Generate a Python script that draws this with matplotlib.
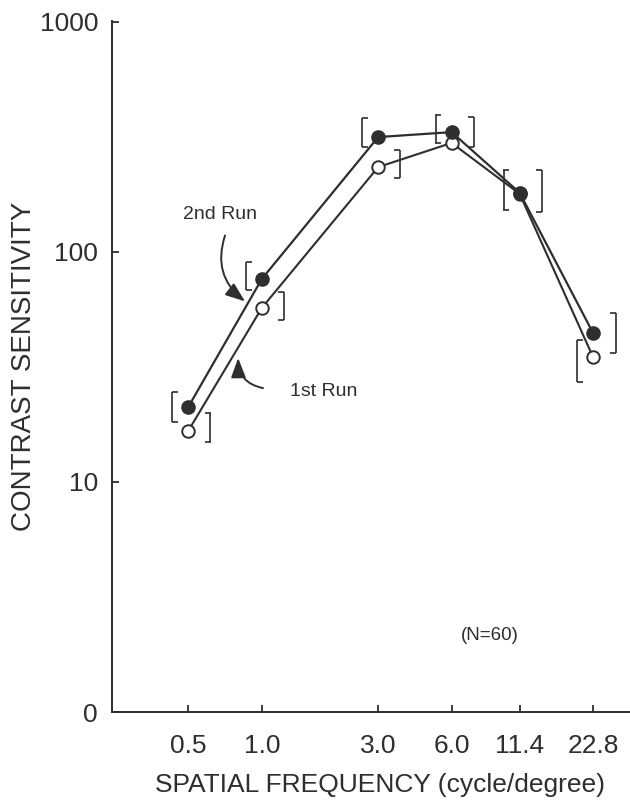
import matplotlib
matplotlib.use("Agg")
import matplotlib.pyplot as plt
from matplotlib.transforms import offset_copy

# Spatial frequencies (cycle/degree)
freq = [0.5, 1.0, 3.0, 6.0, 11.4, 22.8]
freq_labels = ["0.5", "1.0", "3.0", "6.0", "11.4", "22.8"]

# Mean contrast sensitivity for each run
run2 = [21.2, 76.3, 316, 332, 181, 44.4]
run1 = [16.7, 57.1, 234, 298, 179, 34.9]

# Spread brackets (low, high) and the side they sit on
run2_lo = [18.2, 68.4, 286, 298, 152, 36.4]
run2_hi = [24.6, 90.5, 382, 394, 227, 54.3]
run2_side = ["L", "L", "L", "L", "L", "R"]

run1_lo = [14.9, 50.6, 210, 286, 149, 27.2]
run1_hi = [20.0, 67.0, 278, 386, 227, 41.4]
run1_side = ["R", "R", "R", "R", "R", "L"]

y_ticks = [1, 10, 100, 1000]
y_tick_labels = ["0", "10", "100", "1000"]

INK = "#2e2e2e"
FONT = "Liberation Sans"

fig = plt.figure(figsize=(6.30, 8.01), dpi=100)
ax = fig.add_axes([112 / 630, 89 / 801, 518 / 630, 691 / 801])
ax.set_xscale("log")
ax.set_yscale("log")
ax.set_xlim(0.2433, 32.3)
ax.set_ylim(1, 1010)

for s in ("top", "right"):
    ax.spines[s].set_visible(False)
for s in ("left", "bottom"):
    ax.spines[s].set_color(INK)
    ax.spines[s].set_linewidth(1.4)

ax.set_xticks(freq)
ax.set_xticklabels(freq_labels)
ax.set_yticks(y_ticks)
ax.set_yticklabels(y_tick_labels)
ax.minorticks_off()
ax.tick_params(axis="both", direction="in", length=5, width=1.3, color=INK,
               labelcolor=INK, labelsize=19)
ax.tick_params(axis="x", pad=16)
ax.tick_params(axis="y", pad=10)
for lab in ax.get_xticklabels() + ax.get_yticklabels():
    lab.set_fontfamily(FONT)


def brackets(xs, lo, hi, sides, left_px, right_px):
    serif = 4.0
    for x, a, b, side in zip(xs, lo, hi, sides):
        dx = left_px if side == "L" else right_px
        sgn = 1 if side == "L" else -1
        t_v = offset_copy(ax.transData, fig=fig, x=dx * 0.72, units="points")
        t_s = offset_copy(ax.transData, fig=fig, x=(dx * 0.72 + sgn * serif / 2),
                          units="points")
        ax.plot([x, x], [a, b], color=INK, lw=1.2, transform=t_v, zorder=2,
                solid_capstyle="butt")
        ax.plot([x, x], [a, b], ls="none", marker="_", ms=serif, mew=1.2,
                color=INK, transform=t_s, zorder=2)


brackets(freq, run2_lo, run2_hi, run2_side, -16, 23)
brackets(freq, run1_lo, run1_hi, run1_side, -16, 22)

ax.plot(freq, run1, color=INK, lw=1.5, marker="o", ms=9, mfc="white",
        mec=INK, mew=1.4, zorder=3)
ax.plot(freq, run2, color=INK, lw=1.6, marker="o", ms=9.5, mfc=INK,
        mec=INK, mew=1.0, zorder=4)

arrow = dict(arrowstyle="-|>,head_length=0.85,head_width=0.32",
             color=INK, lw=1.4, shrinkA=0, shrinkB=0)

ax.text(0.675, 146, "2nd Run", ha="center", va="center", fontsize=14,
        color=INK, family=FONT)
ax.annotate("", xy=(0.854, 61), xytext=(0.707, 118), fontsize=14,
            arrowprops=dict(arrow, connectionstyle="arc3,rad=0.35"))

ax.text(1.80, 24.8, "1st Run", ha="center", va="center", fontsize=14,
        color=INK, family=FONT)
ax.annotate("", xy=(0.80, 34.6), xytext=(1.012, 25.6), fontsize=14,
            arrowprops=dict(arrow, connectionstyle="arc3,rad=-0.4"))

fig.text(490 / 630, 1 - 635 / 801, "(N=60)", ha="center", va="center",
         fontsize=13.5, color=INK, family=FONT)

fig.text(380 / 630, 1 - 785 / 801, "SPATIAL FREQUENCY (cycle/degree)",
         ha="center", va="center", fontsize=19, color=INK, family=FONT)
fig.text(24 / 630, 1 - 366 / 801, "CONTRAST SENSITIVITY", rotation=90,
         ha="center", va="center", fontsize=20, color=INK, family=FONT)

fig.savefig("out.png", dpi=100, facecolor="white")
